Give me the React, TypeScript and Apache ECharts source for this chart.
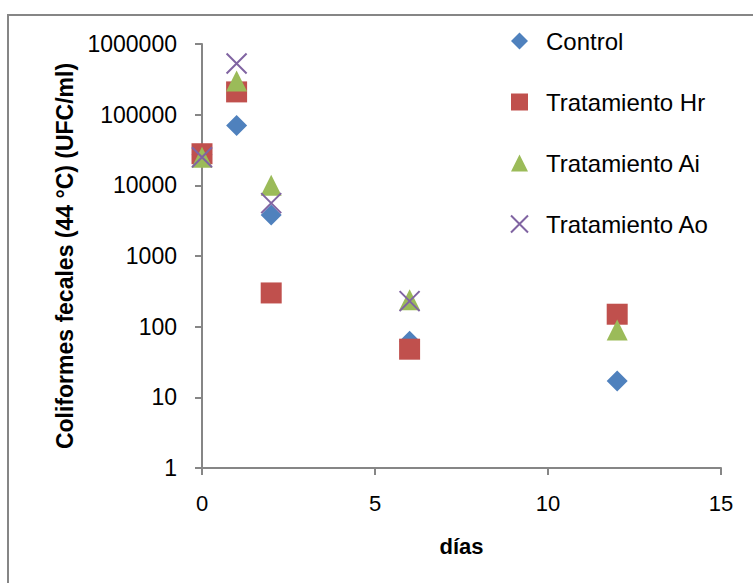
import React, { useEffect, useRef } from "react";
import * as echarts from "echarts";

const days = [0, 1, 2, 6, 12];
const control = [27000, 70000, 3800, 62, 17];
const tratHr = [28000, 210000, 300, 48, 150];
const tratAi = [25000, 300000, 10000, 240, 90];
const tratAo = [25000, 530000, 5600, 230, null];

const seriesNames = ["Control", "Tratamiento Hr", "Tratamiento Ai", "Tratamiento Ao"];
const seriesColors = ["#4F81BD", "#C0504D", "#9BBB59", "#8064A2"];
const xTicks = [0, 5, 10, 15];
const yTicks = [1, 10, 100, 1000, 10000, 100000, 1000000];

const FONT = "'Liberation Sans', Arial, sans-serif";
const CROSS = "path://M0,0L10,10M10,0L0,10";

function pairs(values: (number | null)[]) {
  return days
    .map((d, i) => [d, values[i]])
    .filter((p) => p[1] !== null);
}

export default function App() {
  const ref = useRef<HTMLDivElement>(null);
  useEffect(() => {
    if (!ref.current) return;
    const chart = echarts.init(ref.current, null, { renderer: "svg" });
    const data = [control, tratHr, tratAi, tratAo];
    const symbols = ["diamond", "rect", "triangle", CROSS];
    const sizes: any[] = [[21, 21], [21, 21], [21, 21], [20, 20]];
    chart.setOption({
      animation: false,
      backgroundColor: "#ffffff",
      textStyle: { fontFamily: FONT },
      grid: { left: 202, top: 44, right: 32, bottom: 115 },
      graphic: [
        {
          type: "rect",
          shape: { x: 8, y: 15, width: 800, height: 700 },
          style: { fill: "none", stroke: "#868686", lineWidth: 2 },
          silent: true,
          z: -10,
        },
      ],
      legend: {
        orient: "vertical",
        left: 505,
        top: 24,
        itemWidth: 17,
        itemHeight: 17,
        itemGap: 37,
        textStyle: {
          fontFamily: FONT,
          fontSize: 24,
          color: "#000",
          lineHeight: 24,
          padding: [0, 0, 0, 13],
        },
        data: seriesNames,
      },
      xAxis: {
        type: "value",
        min: xTicks[0],
        max: xTicks[xTicks.length - 1],
        interval: 5,
        name: "días",
        nameLocation: "middle",
        nameGap: 67,
        nameTextStyle: { fontFamily: FONT, fontSize: 22, fontWeight: "bold", color: "#000" },
        axisLine: { show: true, lineStyle: { color: "#868686", width: 2 } },
        axisTick: { show: true, length: 7, lineStyle: { color: "#868686", width: 2 } },
        axisLabel: { fontFamily: FONT, fontSize: 22, color: "#000", margin: 24 },
        splitLine: { show: false },
      },
      yAxis: {
        type: "log",
        logBase: 10,
        min: yTicks[0],
        max: yTicks[yTicks.length - 1],
        name: "Coliformes fecales (44 °C) (UFC/ml)",
        nameLocation: "middle",
        nameRotate: 90,
        nameGap: 121,
        nameTextStyle: { fontFamily: FONT, fontSize: 23, fontWeight: "bold", color: "#000" },
        axisLine: { show: true, lineStyle: { color: "#868686", width: 2 } },
        axisTick: { show: true, length: 7, lineStyle: { color: "#868686", width: 2 } },
        axisLabel: {
          fontFamily: FONT,
          fontSize: 23,
          color: "#000",
          margin: 25,
          formatter: (v: number) => String(Math.round(v)),
        },
        splitLine: { show: false },
        minorTick: { show: false },
      },
      series: seriesNames.map((name, i) => ({
        name,
        type: "scatter",
        data: pairs(data[i]),
        symbol: symbols[i],
        symbolSize: sizes[i],
        itemStyle:
          i === 3
            ? { color: "transparent", borderColor: seriesColors[i], borderWidth: 2, opacity: 1 }
            : { color: seriesColors[i], opacity: 1 },
        emphasis: { disabled: true },
        z: 2 + i,
      })),
    });
    return () => chart.dispose();
  }, []);
  return (
    <div
      ref={ref}
      style={{ position: "fixed", left: 0, top: 0, width: 753, height: 583 }}
    />
  );
}
